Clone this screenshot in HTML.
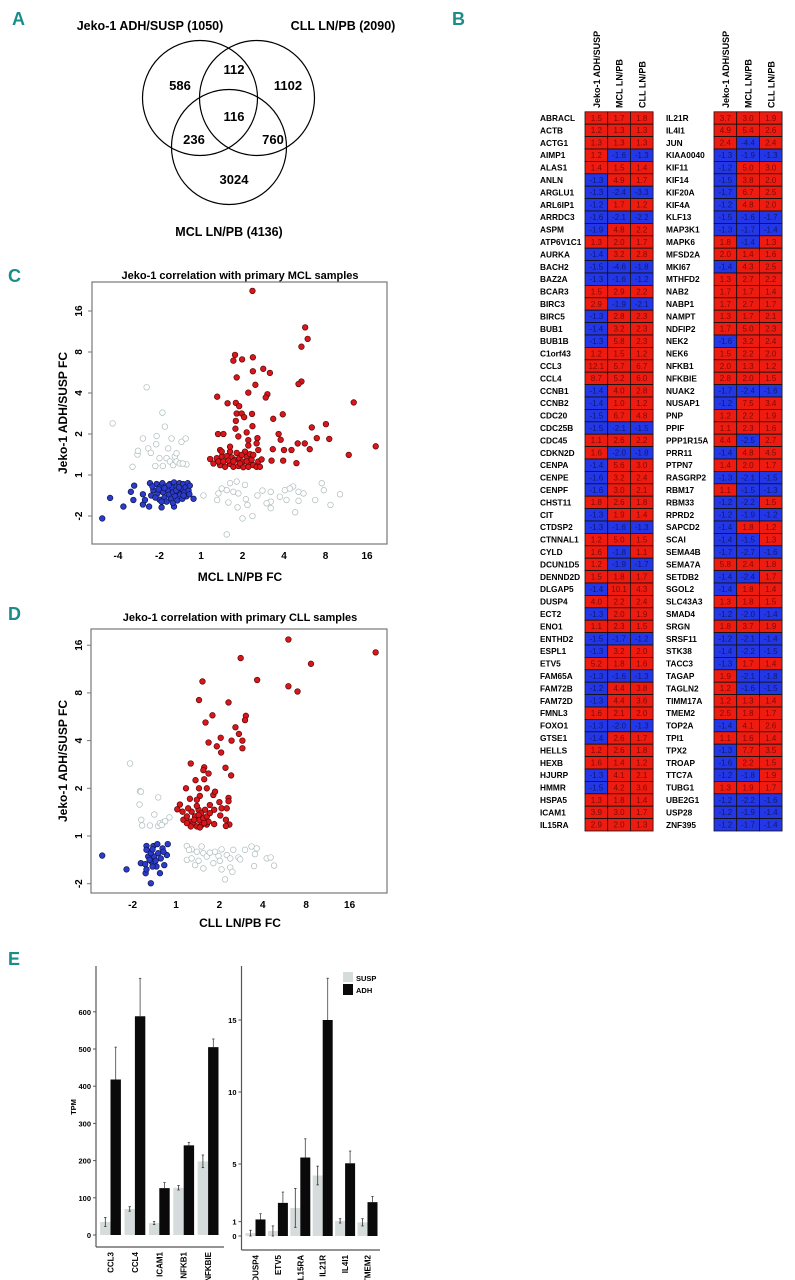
<!DOCTYPE html>
<html><head><meta charset="utf-8">
<style>
html,body{margin:0;padding:0;background:#fff;}
svg{display:block;font-family:"Liberation Sans",Arial,sans-serif;}
.lbl{font-family:"Liberation Sans",sans-serif;font-weight:bold;fill:#1a8c8a;font-size:18px;}
</style></head>
<body>
<svg id="fig" width="795" height="1280" viewBox="0 0 795 1280" xmlns="http://www.w3.org/2000/svg">
  <text class="lbl" x="12" y="25">A</text>
  <text class="lbl" x="452" y="25">B</text>
  <text class="lbl" x="8" y="282">C</text>
  <text class="lbl" x="8" y="620">D</text>
  <text class="lbl" x="8" y="965">E</text>
  <g id="venn" font-weight="bold" text-anchor="middle">
    <text x="150" y="30" font-size="12.5">Jeko-1 ADH/SUSP (1050)</text>
    <text x="343" y="30" font-size="12.5">CLL LN/PB (2090)</text>
    <text x="229" y="236" font-size="12.5">MCL LN/PB (4136)</text>
    <circle cx="200" cy="98" r="57.5" fill="none" stroke="#000" stroke-width="1.2"/>
    <circle cx="257" cy="98" r="57.5" fill="none" stroke="#000" stroke-width="1.2"/>
    <circle cx="229" cy="147" r="57.5" fill="none" stroke="#000" stroke-width="1.2"/>
    <g font-size="13">
    <text x="180" y="90">586</text>
    <text x="234" y="74">112</text>
    <text x="288" y="90">1102</text>
    <text x="234" y="121">116</text>
    <text x="194" y="144">236</text>
    <text x="273" y="144">760</text>
    <text x="234" y="184">3024</text>
    </g>
  </g>
  <g id="heat"></g>
  <g id="scC"></g>
  <g id="scD"></g>
  <g id="barL"></g>
  <g id="barR"></g>
</svg>
<script>
// ---------- Heatmap data ----------
const genes = ["ABRACL","ACTB","ACTG1","AIMP1","ALAS1","ANLN","ARGLU1","ARL6IP1","ARRDC3","ASPM","ATP6V1C1","AURKA","BACH2","BAZ2A","BCAR3","BIRC3","BIRC5","BUB1","BUB1B","C1orf43","CCL3","CCL4","CCNB1","CCNB2","CDC20","CDC25B","CDC45","CDKN2D","CENPA","CENPE","CENPF","CHST11","CIT","CTDSP2","CTNNAL1","CYLD","DCUN1D5","DENND2D","DLGAP5","DUSP4","ECT2","ENO1","ENTHD2","ESPL1","ETV5","FAM65A","FAM72B","FAM72D","FMNL3","FOXO1","GTSE1","HELLS","HEXB","HJURP","HMMR","HSPA5","ICAM1","IL15RA",
"IL21R","IL4I1","JUN","KIAA0040","KIF11","KIF14","KIF20A","KIF4A","KLF13","MAP3K1","MAPK6","MFSD2A","MKI67","MTHFD2","NAB2","NABP1","NAMPT","NDFIP2","NEK2","NEK6","NFKB1","NFKBIE","NUAK2","NUSAP1","PNP","PPIF","PPP1R15A","PRR11","PTPN7","RASGRP2","RBM17","RBM33","RPRD2","SAPCD2","SCAI","SEMA4B","SEMA7A","SETDB2","SGOL2","SLC43A3","SMAD4","SRGN","SRSF11","STK38","TACC3","TAGAP","TAGLN2","TIMM17A","TMEM2","TOP2A","TPI1","TPX2","TROAP","TTC7A","TUBG1","UBE2G1","USP28","ZNF395"];
const jekoFC = [1.5,1.2,1.3,1.2,1.4,-1.3,-1.3,-1.2,-1.6,-1.9,1.3,-1.4,-1.5,-1.3,1.5,2.9,-1.3,-1.4,-1.3,1.2,12.1,8.7,-1.4,-1.4,-1.5,-1.5,1.1,1.6,-1.4,-1.6,-1.6,1.8,-1.3,-1.3,1.2,1.6,1.2,1.5,-1.4,4.0,-1.3,1.1,-1.5,-1.3,5.2,-1.3,-1.2,-1.3,1.6,-1.3,-1.4,1.2,1.6,-1.3,-1.5,1.3,3.9,2.9,
3.7,4.9,2.4,-1.3,-1.2,-1.5,-1.7,-1.2,-1.5,-1.3,1.8,2.0,-1.4,1.3,1.7,1.7,1.3,1.7,-1.6,1.5,2.0,2.8,-1.7,-1.2,1.2,1.1,4.4,-1.4,1.4,-1.3,1.1,-1.2,-1.2,-1.4,-1.4,-1.7,5.8,-1.4,-1.4,1.3,-1.2,1.8,-1.2,-1.4,-1.3,1.9,1.2,1.2,2.5,-1.4,1.1,-1.3,-1.6,-1.2,1.3,-1.2,-1.2,-1.2];
const mclFC = [1.7,1.3,1.3,-1.6,1.5,4.9,-2.4,1.7,-2.1,4.8,2.0,3.2,-4.6,-1.6,2.9,-1.9,2.8,3.2,5.8,1.5,5.7,5.2,4.0,1.0,6.7,-2.1,2.6,-2.0,5.6,3.2,3.0,2.6,1.9,-1.6,5.0,-1.8,-1.9,1.8,10.1,2.2,2.0,2.3,-1.7,3.2,1.8,-1.6,4.4,4.4,2.1,-2.0,2.6,2.6,1.4,4.1,4.2,1.8,3.0,2.0,
3.0,5.4,-4.4,-1.9,5.0,3.8,6.7,4.8,-1.6,-1.7,-1.4,1.4,4.3,2.7,1.7,2.7,1.7,5.0,3.2,2.2,1.3,2.0,-2.4,7.5,2.2,2.3,-2.5,4.8,2.0,-2.1,-1.5,-2.2,-1.9,1.8,-1.5,-2.7,2.4,-2.4,1.8,1.8,-2.0,3.7,-2.1,-2.2,1.7,-2.1,-1.6,1.3,1.8,4.1,1.6,7.7,2.2,-1.8,1.9,-2.2,-1.9,-1.7];
const cllFC = [1.8,1.3,1.3,-1.3,1.4,1.7,-3.3,1.2,-2.2,2.2,1.7,2.8,-1.8,-1.2,2.2,-2.1,2.3,2.3,2.3,1.2,6.7,6.0,2.8,1.2,4.8,-1.5,2.2,-1.8,3.0,2.4,2.1,1.8,1.4,-1.3,1.5,1.1,-1.7,1.7,4.3,2.4,1.9,1.5,-1.2,2.0,1.6,-1.3,3.8,3.6,2.0,-1.3,1.7,1.8,1.2,2.1,3.6,1.4,1.7,1.3,
1.9,2.6,2.4,-1.3,3.0,2.0,2.5,2.0,-1.7,-1.4,1.3,1.6,2.5,2.2,1.4,1.7,2.1,2.3,2.4,2.0,1.2,1.5,-1.6,3.4,1.9,1.6,2.7,4.5,1.7,-1.5,-1.3,1.5,-1.2,1.2,1.3,-1.6,1.8,1.7,1.4,1.5,-1.4,1.9,-1.4,-1.5,1.4,-1.8,-1.5,1.4,1.7,2.6,1.4,3.5,1.5,1.9,1.7,-1.6,-1.4,-1.4];
const heatCols = ["Jeko-1 ADH/SUSP","MCL LN/PB","CLL LN/PB"];

// ---------- Scatter C (log2-scale coordinates, signed FC) ----------
const mclRedX = [1.24,2.51,2.57,2.42,0.82,0.99,1.25,0.78,1.50,1.66,1.25,0.86,2.42,2.35,1.31,1.14,0.39,1.60,1.56,0.64,0.84,0.92,3.68,0.86,0.98,1.23,1.97,1.04,1.74,0.84,1.24,2.67,3.01,0.83,1.10,0.41,0.54,1.87,0.90,1.36,1.92,2.79,3.09,2.50,2.33,1.34,1.14,1.73,2.0,2.18,2.62,0.46,4.21,3.56,2.3,1.70,1.98,
0.22,0.38,0.50,0.62,0.74,0.82,0.92,1.00,1.10,1.18,1.26,1.38,1.46,0.46,0.58,0.70,0.78,0.90,1.02,1.14,0.42,0.54,0.66,0.78,0.94,1.10,1.22,1.34,1.42,0.30,0.50,0.70,0.86,1.06,1.18,0.98,1.26,0.70,1.14,1.38];
const mclRedY = [4.49,3.6,3.32,3.13,2.93,2.82,2.87,2.79,2.59,2.49,2.53,2.38,2.28,2.22,2.2,2.01,1.91,1.97,1.89,1.75,1.76,1.68,1.77,1.5,1.5,1.49,1.48,1.41,1.37,1.32,1.19,1.16,1.24,1.13,1.04,1.0,1.0,1.0,0.94,0.9,0.86,0.90,0.88,0.77,0.77,0.77,0.72,0.63,0.61,0.61,0.63,0.61,0.70,0.49,0.29,0.35,0.35,
0.39,0.41,0.45,0.46,0.43,0.37,0.41,0.33,0.45,0.28,0.24,0.33,0.38,0.24,0.20,0.27,0.20,0.22,0.19,0.20,0.33,0.33,0.35,0.33,0.28,0.33,0.37,0.20,0.20,0.28,0.57,0.57,0.54,0.57,0.51,0.49,0.49,0.69,0.85,0.61];
const mclBlueX = [-2.38,-2.19,-1.87,-1.69,-1.61,-1.63,-1.40,-1.40,-1.35,-1.25,-0.95,-0.65,-0.18,
-1.23,-1.15,-1.20,-1.07,-1.05,-1.00,-0.99,-0.93,-0.91,-0.88,-0.85,-0.83,-0.80,-0.77,-0.75,-0.72,-0.70,-0.67,-0.65,-0.62,-0.59,-0.57,-0.55,-0.52,-0.50,-0.47,-0.45,-0.43,-0.40,-0.37,-0.35,-0.32,-0.30,-0.27,-0.28,-1.10,-0.95,-0.68,-0.60,-0.78,-1.17,-0.88,-0.42,-0.53,-1.02];
const mclBlueY = [-1.06,-0.56,-0.77,-0.41,-0.26,-0.61,-0.47,-0.72,-0.61,-0.77,-0.79,-0.77,-0.58,
-0.20,-0.37,-0.50,-0.22,-0.45,-0.60,-0.30,-0.20,-0.42,-0.55,-0.28,-0.65,-0.37,-0.48,-0.22,-0.58,-0.30,-0.42,-0.18,-0.52,-0.28,-0.62,-0.40,-0.20,-0.48,-0.33,-0.58,-0.22,-0.42,-0.30,-0.52,-0.20,-0.38,-0.26,-0.47,-0.55,-0.65,-0.68,-0.38,-0.25,-0.28,-0.32,-0.50,-0.30,-0.35];
const mclGrayX = [-1.31,-2.13,-0.93,-0.87,-1.40,-1.07,-1.08,-1.27,-1.53,-1.65,-1.10,-0.92,-0.79,-0.71,-0.47,-0.37,-1.00,-0.83,-0.75,-0.67,-0.63,-0.59,-0.51,-0.35,-0.59,-0.44,-1.52,-1.21,
0.06,0.39,0.50,0.62,0.70,0.78,0.86,0.90,1.06,1.08,0.88,1.00,1.24,1.12,0.66,0.62,1.36,1.48,1.68,1.68,1.58,1.68,1.90,2.02,2.06,2.22,2.27,2.35,2.47,2.35,2.75,2.91,2.96,3.12,3.35,0.42,2.14];
const mclGrayY = [2.14,1.26,1.52,1.18,0.89,0.95,0.75,0.65,0.50,0.20,0.22,0.22,0.65,0.89,0.81,0.89,0.41,0.41,0.33,0.24,0.45,0.33,0.28,0.26,0.53,0.28,0.59,0.54,
-0.50,-0.61,-0.33,-0.37,-0.20,-0.41,-0.16,-0.45,-0.24,-0.59,-0.79,-1.06,-1.0,-0.73,-0.67,-1.45,-0.50,-0.38,-0.41,-0.65,-0.69,-0.81,-0.53,-0.37,-0.61,-0.28,-0.91,-0.41,-0.45,-0.63,-0.61,-0.20,-0.37,-0.73,-0.47,-0.45,-0.33];

// ---------- Scatter D ----------
const cllRedX = [2.59,4.60,1.49,3.11,0.61,1.87,2.59,2.80,0.53,1.21,0.84,1.61,1.59,0.68,1.37,1.45,1.03,1.53,1.28,0.75,0.94,1.53,1.04,0.34,0.65,0.63,1.14,0.75,1.27,0.45,0.65,0.23,0.53,0.71,0.86,0.90,1.21,1.21,1.00,0.03,0.09,0.55,0.32,0.48,1.05,1.17,0.88,0.78,1.02,1.15,1.23,1.15,0.71,0.88,
0.17,0.25,0.32,0.36,0.40,0.44,0.48,0.52,0.54,0.58,0.59,0.63,0.67,0.71,0.75,0.28,0.48,0.34,0.55,0.65,0.42,0.52,0.25,0.78,0.15];
const cllRedY = [4.12,3.85,3.73,3.61,3.24,3.27,3.14,3.03,2.85,2.80,2.53,2.52,2.43,2.38,2.28,2.14,2.06,2.0,2.0,1.96,1.88,1.84,1.75,1.52,1.44,1.38,1.43,1.31,1.27,1.17,1.19,1.0,1.0,1.0,0.86,0.93,0.80,0.73,0.71,0.56,0.66,0.84,0.78,0.76,0.58,0.58,0.55,0.65,0.43,0.34,0.24,0.21,0.24,0.25,
0.34,0.41,0.30,0.51,0.27,0.41,0.20,0.55,0.33,0.48,0.23,0.37,0.55,0.41,0.30,0.58,0.63,0.20,0.18,0.27,0.34,0.44,0.27,0.48,0.51];
const cllBlueX = [-1.70,-1.14,-0.58,-0.37,-0.70,-0.68,-0.81,-0.71,-0.64,-0.68,-0.52,-0.43,-0.31,-0.19,-0.21,-0.29,-0.27,-0.45,-0.56,-0.50,-0.41,-0.58,-0.54,-0.35,-0.61,-0.47,-0.54,-0.68];
const cllBlueY = [-0.41,-0.70,-0.99,-0.78,-0.78,-0.70,-0.57,-0.59,-0.43,-0.21,-0.21,-0.17,-0.26,-0.17,-0.40,-0.33,-0.61,-0.64,-0.54,-0.43,-0.36,-0.36,-0.28,-0.47,-0.50,-0.52,-0.64,-0.29];
const cllGrayX = [-1.06,-0.83,-0.81,-0.84,-0.41,-0.50,-0.80,-0.78,-0.60,-0.41,-0.37,-0.29,-0.15,-0.25,-0.33,
0.25,0.36,0.48,0.59,0.63,0.71,0.25,0.36,0.44,0.63,0.78,0.90,0.98,1.05,1.17,1.25,1.32,1.44,1.48,1.59,1.74,1.86,1.82,1.80,2.09,2.18,2.26,1.01,1.05,1.25,1.30,1.13,0.30,0.86,0.52];
const cllGrayY = [1.52,0.94,0.93,0.66,0.81,0.45,0.34,0.22,0.22,0.21,0.27,0.29,0.39,0.31,0.23,
-0.21,-0.28,-0.33,-0.22,-0.36,-0.43,-0.50,-0.47,-0.61,-0.68,-0.35,-0.33,-0.42,-0.28,-0.40,-0.47,-0.29,-0.45,-0.49,-0.29,-0.22,-0.26,-0.38,-0.63,-0.47,-0.45,-0.62,-0.52,-0.70,-0.66,-0.75,-0.91,-0.29,-0.57,-0.52];
const fcTickLabels = ["-4","-2","1","2","4","8","16"];
const fcTickPos = [-2,-1,0,1,2,3,4];

// ---------- Bar charts ----------
const tpmGenes = ["CCL3","CCL4","ICAM1","NFKB1","NFKBIE"];
const tpmSusp = [35,70,32,127,198];
const tpmSuspErr = [12,6,4,6,17];
const tpmAdh = [418,588,126,241,505];
const tpmAdhErr = [87,102,15,8,22];
const tpmTicks = [0,100,200,300,400,500,600];
const lowGenes = ["DUSP4","ETV5","IL15RA","IL21R","IL4I1","TMEM2"];
const lowSusp = [0.2,0.35,1.95,4.2,1.05,0.95];
const lowSuspErr = [0.2,0.35,1.35,0.65,0.15,0.25];
const lowAdh = [1.15,2.3,5.45,15.0,5.05,2.35];
const lowAdhErr = [0.4,0.75,1.3,2.9,0.85,0.4];
const lowTicks = [0,1,5,10,15];

const NS = "http://www.w3.org/2000/svg";
function mk(tag, attrs, parent){ const e=document.createElementNS(NS,tag); for(const k in attrs) e.setAttribute(k,attrs[k]); parent.appendChild(e); return e; }
function txt(parent, x, y, s, attrs){ const t=mk("text", Object.assign({x:x,y:y}, attrs||{}), parent); t.textContent=s; return t; }

// ---- Heatmap ----
(function(){
  const g=document.getElementById("heat");
  const rowH=12.4, top0=111.8, cw=22.7, nRows=58;
  const blocks=[{lx:540,cx:585},{lx:666,cx:714}];
  blocks.forEach((b,bi)=>{
    heatCols.forEach((c,ci)=>{
      const hx=b.cx+cw*ci+cw/2+3.5;
      const t=txt(g,hx,108,c,{transform:"rotate(-90 "+hx+" 108)","font-size":"9","font-weight":"bold"});
      
      
    });
    for(let r=0;r<nRows;r++){
      const i=bi*nRows+r;
      const y=top0+r*rowH;
      const lab=txt(g,b.lx,y+rowH/2+3,genes[i],{"font-size":"8.3","font-weight":"bold"});
      
      
      [jekoFC[i],mclFC[i],cllFC[i]].forEach((v,ci)=>{
        const x=b.cx+ci*cw;
        const rc=mk("rect",{x:x,y:y,width:cw,height:rowH,fill:v>0?"#ee1c10":"#2437e6",stroke:"#111","stroke-width":"0.8"},g);
        
        
        const tv=txt(g,x+cw/2,y+rowH/2+2.8,v.toFixed(1),{"font-size":"8","text-anchor":"middle",fill:v>0?"#7a0a05":"#0c1a70"});
        
        
      });
    }
  });
})();

// ---- Scatter ----
function scatter(id, cfg){
  const g=document.getElementById(id);
  const X=v=>cfg.x0+cfg.sx*v, Y=v=>cfg.y0-cfg.sy*v;
  const tt=txt(g,240,cfg.titleY,cfg.title,{"font-size":"11","font-weight":"bold","text-anchor":"middle"});
  
  
  const box=mk("rect",{x:cfg.bx,y:cfg.by,width:cfg.bw,height:cfg.bh,fill:"none",stroke:"#777","stroke-width":"1.2"},g);
  
  
  cfg.xticks.forEach((p,k)=>{
    const xl=txt(g,X(p),cfg.by+cfg.bh+15,cfg.xlabels[k],{"font-size":"10","font-weight":"bold","text-anchor":"middle"});
    
    
  });
  cfg.yticks.forEach((p,k)=>{
    const yy=Y(p);
    mk("line",{x1:cfg.bx-4,y1:yy,x2:cfg.bx,y2:yy,stroke:"#777"},g);
    const yl=txt(g,82,yy,cfg.ylabels[k],{"font-size":"10","font-weight":"bold","text-anchor":"middle",transform:"rotate(-90 82 "+yy+")"});
    
    
  });
  const xt=txt(g,240,cfg.xTitleY,cfg.xTitle,{"font-size":"12","font-weight":"bold","text-anchor":"middle"});
  
  
  const ycy=cfg.by+cfg.bh/2;
  const yt=txt(g,67,ycy,"Jeko-1 ADH/SUSP FC",{"font-size":"12","font-weight":"bold","text-anchor":"middle",transform:"rotate(-90 67 "+ycy+")"});
  
  
  function pts(xs,ys,fill,stroke,name){
    for(let i=0;i<xs.length;i++){
      const c=mk("circle",{cx:X(xs[i]),cy:Y(ys[i]),r:2.8,fill:fill,stroke:stroke,"stroke-width":"0.7"},g);
      
      
    }
  }
  pts(cfg.gx,cfg.gy,"#fff","#aebcbc","point-unchanged");
  pts(cfg.bxs,cfg.bys,"#2b3ccc","#10154a","point-down");
  pts(cfg.rx,cfg.ry,"#d8161b","#5a0606","point-up");
}
scatter("scC",{title:"Jeko-1 correlation with primary MCL samples",titleY:279,bx:92,by:282,bw:295,bh:262,
  x0:201,sx:41.5,y0:475,sy:41,xticks:fcTickPos,xlabels:fcTickLabels,
  yticks:[-1,0,1,2,3,4],ylabels:["-2","1","2","4","8","16"],xTitle:"MCL LN/PB FC",xTitleY:581,
  rx:mclRedX,ry:mclRedY,bxs:mclBlueX,bys:mclBlueY,gx:mclGrayX,gy:mclGrayY});
scatter("scD",{title:"Jeko-1 correlation with primary CLL samples",titleY:621,bx:91,by:629,bw:296,bh:264,
  x0:176,sx:43.4,y0:836,sy:47.7,xticks:fcTickPos.slice(1),xlabels:fcTickLabels.slice(1),
  yticks:[-1,0,1,2,3,4],ylabels:["-2","1","2","4","8","16"],xTitle:"CLL LN/PB FC",xTitleY:927,
  rx:cllRedX,ry:cllRedY,bxs:cllBlueX,bys:cllBlueY,gx:cllGrayX,gy:cllGrayY});

// ---- Bars ----
function bars(id,cfg){
  const g=document.getElementById(id);
  const Y=v=>cfg.y0-cfg.sy*v;
  mk("line",{x1:cfg.ax,y1:966,x2:cfg.ax,y2:cfg.axB,stroke:"#555","stroke-width":"1.2"},g);
  mk("line",{x1:cfg.ax,y1:cfg.axB,x2:cfg.axR,y2:cfg.axB,stroke:"#555","stroke-width":"1.2"},g);
  cfg.ticks.forEach(t=>{
    mk("line",{x1:cfg.ax-3,y1:Y(t),x2:cfg.ax,y2:Y(t),stroke:"#555"},g);
    const l=txt(g,cfg.ax-5,Y(t)+3,String(t),{"font-size":"7.5","font-weight":"bold","text-anchor":"end"});
    
    
  });
  cfg.genes.forEach((gn,i)=>{
    const cx=cfg.c0+cfg.step*i;
    const bs=mk("rect",{x:cx-cfg.bw,y:Y(cfg.susp[i]),width:cfg.bw,height:cfg.sy*cfg.susp[i],fill:"#d6dcdb"},g);
    
    
    const ba=mk("rect",{x:cx,y:Y(cfg.adh[i]),width:cfg.bw,height:cfg.sy*cfg.adh[i],fill:"#0a0a0a"},g);
    
    
    const sx=cx-cfg.bw/2, ax=cx+cfg.bw/2;
    const es=cfg.suspErr[i], ea=cfg.adhErr[i];
    mk("line",{x1:sx,y1:Y(cfg.susp[i]+es),x2:sx,y2:Y(Math.max(0,cfg.susp[i]-es)),stroke:"#333","stroke-width":"0.8"},g);
    mk("line",{x1:sx-1.2,y1:Y(cfg.susp[i]+es),x2:sx+1.2,y2:Y(cfg.susp[i]+es),stroke:"#333","stroke-width":"0.8"},g);
    mk("line",{x1:sx-1.2,y1:Y(Math.max(0,cfg.susp[i]-es)),x2:sx+1.2,y2:Y(Math.max(0,cfg.susp[i]-es)),stroke:"#333","stroke-width":"0.8"},g);
    mk("line",{x1:ax,y1:Y(cfg.adh[i]+ea),x2:ax,y2:Y(cfg.adh[i]),stroke:"#444","stroke-width":"0.8"},g);
    mk("line",{x1:ax-1.2,y1:Y(cfg.adh[i]+ea),x2:ax+1.2,y2:Y(cfg.adh[i]+ea),stroke:"#444","stroke-width":"0.8"},g);
    const lx=cx+3;
    const l=txt(g,lx,cfg.axB+5,gn,{"font-size":"8","font-weight":"bold","text-anchor":"end",transform:"rotate(-90 "+lx+" "+(cfg.axB+5)+")"});
    
    
  });
}
bars("barL",{ax:96,axB:1247,axR:224,y0:1235,sy:0.372,ticks:tpmTicks,genes:tpmGenes,susp:tpmSusp,suspErr:tpmSuspErr,adh:tpmAdh,adhErr:tpmAdhErr,c0:110.5,step:24.4,bw:10.4});
bars("barR",{ax:241.5,axB:1250,axR:380,y0:1236,sy:14.4,ticks:lowTicks,genes:lowGenes,susp:lowSusp,suspErr:lowSuspErr,adh:lowAdh,adhErr:lowAdhErr,c0:255.5,step:22.4,bw:10});
(function(){
  const g=document.getElementById("barL");
  const t=txt(g,76,1107,"TPM",{"font-size":"7.5","font-weight":"bold","text-anchor":"middle",transform:"rotate(-90 76 1107)"});
  
  
  const r=document.getElementById("barR");
  const l1=mk("rect",{x:343,y:972,width:10,height:10,fill:"#d6dcdb"},r);
  
  
  const l2=mk("rect",{x:343,y:984,width:10,height:11,fill:"#0a0a0a"},r);
  
  
  const t1=txt(r,356,981,"SUSP",{"font-size":"7.5","font-weight":"bold"});
  
  
  const t2=txt(r,356,993,"ADH",{"font-size":"7.5","font-weight":"bold"});
  
  
})();
</script>
</body></html>
